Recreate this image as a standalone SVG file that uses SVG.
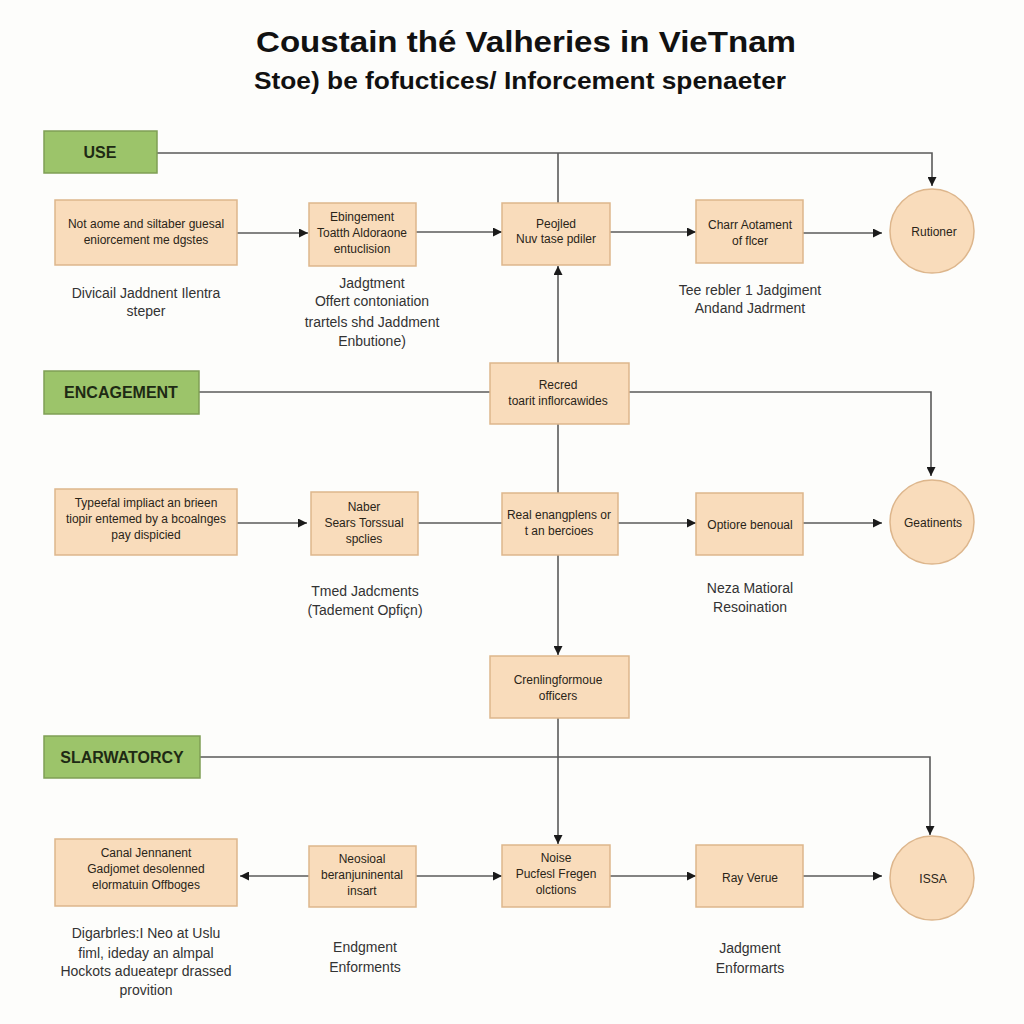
<svg xmlns="http://www.w3.org/2000/svg" width="1024" height="1024" viewBox="0 0 1024 1024">
<defs>
<marker id="ah" viewBox="0 0 10 10" refX="10" refY="5" markerWidth="9" markerHeight="9" markerUnits="userSpaceOnUse" orient="auto-start-reverse"><path d="M0,0 L10,5 L0,10 z" fill="#1a1a1a"/></marker>
<style>
.bg{fill:#fdfdfb}
.title{font-family:"Liberation Sans",Arial,sans-serif;font-weight:bold;fill:#111;text-anchor:middle}
.lab rect{fill:#9cc46a;stroke:#7f9f55;stroke-width:1.5}
.lab text{font-family:"Liberation Sans",Arial,sans-serif;font-weight:bold;font-size:16px;fill:#1e2a14;text-anchor:middle}
.box rect,.box circle{fill:#f9dcbb;stroke:#ddb68c;stroke-width:1.5}
.box text{font-family:"Liberation Sans",Arial,sans-serif;font-size:12px;fill:#2a2418;text-anchor:middle}
.cap text{font-family:"Liberation Sans",Arial,sans-serif;font-size:14px;fill:#333;text-anchor:middle}
.edges path{fill:none;stroke:#5a5a5a;stroke-width:1.6}
.edges path.a{marker-end:url(#ah)}
</style>
</defs>
<rect class="bg" x="0" y="0" width="1024" height="1024"/>
<text class="title" x="526" y="52" font-size="30" textLength="540" lengthAdjust="spacingAndGlyphs">Coustain thé Valheries in VieTnam</text>
<text class="title" x="520" y="89" font-size="24" textLength="532" lengthAdjust="spacingAndGlyphs">Stoe) be fofuctices/ Inforcement spenaeter</text>

<g class="edges">
<path class="a" d="M157,153 H932 V186"/>
<path d="M558,153 V203"/>
<path class="a" d="M237,233 H308"/>
<path class="a" d="M416,232 H502"/>
<path class="a" d="M610,232 H696"/>
<path class="a" d="M803,233 H882"/>
<path class="a" d="M558,363 V266"/>
<path d="M199,392 H490"/>
<path class="a" d="M629,392 H931 V476"/>
<path d="M558,424 V493"/>
<path class="a" d="M237,523 H307"/>
<path d="M418,523 H502"/>
<path class="a" d="M618,523 H696"/>
<path class="a" d="M803,523 H882"/>
<path class="a" d="M558,555 V655"/>
<path class="a" d="M200,757 H930 V835"/>
<path class="a" d="M558,718 V844"/>
<path class="a" d="M309,876 H240"/>
<path class="a" d="M416,876 H502"/>
<path class="a" d="M610,876 H696"/>
<path class="a" d="M803,876 H882"/>
</g>

<g id="use" class="lab"><rect x="44" y="131" width="113" height="42"/><text x="100" y="158">USE</text></g>
<g id="encagement" class="lab"><rect x="44" y="371" width="155" height="43"/><text x="121" y="398">ENCAGEMENT</text></g>
<g id="slarwatorcy" class="lab"><rect x="44" y="736" width="156" height="42"/><text x="122" y="763">SLARWATORCY</text></g>

<g id="n1" class="box"><rect x="55" y="200" width="182" height="65"/><text x="146" y="228">Not aome and siltaber guesal</text><text x="146" y="244">eniorcement me dgstes</text></g>
<g id="n2" class="box"><rect x="309" y="203" width="107" height="63"/><text x="362" y="221">Ebingement</text><text x="362" y="237">Toatth Aldoraone</text><text x="362" y="253">entuclision</text></g>
<g id="n3" class="box"><rect x="502" y="203" width="108" height="62"/><text x="556" y="228">Peojled</text><text x="556" y="243">Nuv tase pdiler</text></g>
<g id="n4" class="box"><rect x="696" y="200" width="107" height="63"/><text x="750" y="229">Charr Aotament</text><text x="750" y="245">of flcer</text></g>
<g id="n5" class="box"><circle cx="932" cy="231" r="42"/><text x="934" y="236">Rutioner</text></g>

<g id="n6" class="box"><rect x="490" y="363" width="139" height="61"/><text x="558" y="389">Recred</text><text x="558" y="405">toarit inflorcawides</text></g>

<g id="n7" class="box"><rect x="55" y="489" width="182" height="66"/><text x="146" y="507">Typeefal impliact an brieen</text><text x="146" y="523">tiopir entemed by a bcoalnges</text><text x="146" y="539">pay dispicied</text></g>
<g id="n8" class="box"><rect x="311" y="492" width="107" height="63"/><text x="364" y="511">Naber</text><text x="364" y="527">Sears Torssual</text><text x="364" y="543">spclies</text></g>
<g id="n9" class="box"><rect x="502" y="493" width="116" height="62"/><text x="559" y="519">Real enangplens or</text><text x="559" y="535">t an bercioes</text></g>
<g id="n10" class="box"><rect x="696" y="493" width="107" height="62"/><text x="750" y="529">Optiore benoual</text></g>
<g id="n11" class="box"><circle cx="932" cy="522" r="42"/><text x="933" y="527">Geatinents</text></g>

<g id="n12" class="box"><rect x="490" y="656" width="139" height="62"/><text x="558" y="684">Crenlingformoue</text><text x="558" y="700">officers</text></g>

<g id="n13" class="box"><rect x="55" y="839" width="182" height="67"/><text x="146" y="857">Canal Jennanent</text><text x="146" y="873">Gadjomet desolenned</text><text x="146" y="889">elormatuin Offboges</text></g>
<g id="n14" class="box"><rect x="309" y="846" width="107" height="61"/><text x="362" y="863">Neosioal</text><text x="362" y="879">beranjuninental</text><text x="362" y="895">insart</text></g>
<g id="n15" class="box"><rect x="502" y="845" width="108" height="62"/><text x="556" y="862">Noise</text><text x="556" y="878">Pucfesl Fregen</text><text x="556" y="894">olctions</text></g>
<g id="n16" class="box"><rect x="696" y="845" width="107" height="62"/><text x="750" y="882">Ray Verue</text></g>
<g id="n17" class="box"><circle cx="932" cy="878" r="42"/><text x="933" y="883">ISSA</text></g>

<g class="cap">
<text x="146" y="298">Divicail Jaddnent Ilentra</text><text x="146" y="316">steper</text>
<text x="372" y="288">Jadgtment</text><text x="372" y="306">Offert contoniation</text><text x="372" y="327">trartels shd Jaddment</text><text x="372" y="346">Enbutione)</text>
<text x="750" y="295">Tee rebler 1 Jadgiment</text><text x="750" y="313">Andand Jadrment</text>
<text x="365" y="596">Tmed Jadcments</text><text x="365" y="615">(Tadement Opfiçn)</text>
<text x="750" y="593">Neza Matioral</text><text x="750" y="612">Resoination</text>
<text x="146" y="938">Digarbrles:I Neo at Uslu</text><text x="146" y="958">fiml, ideday an almpal</text><text x="146" y="976">Hockots adueatepr drassed</text><text x="146" y="995">provition</text>
<text x="365" y="952">Endgment</text><text x="365" y="972">Enforments</text>
<text x="750" y="953">Jadgment</text><text x="750" y="973">Enformarts</text>
</g>
</svg>
